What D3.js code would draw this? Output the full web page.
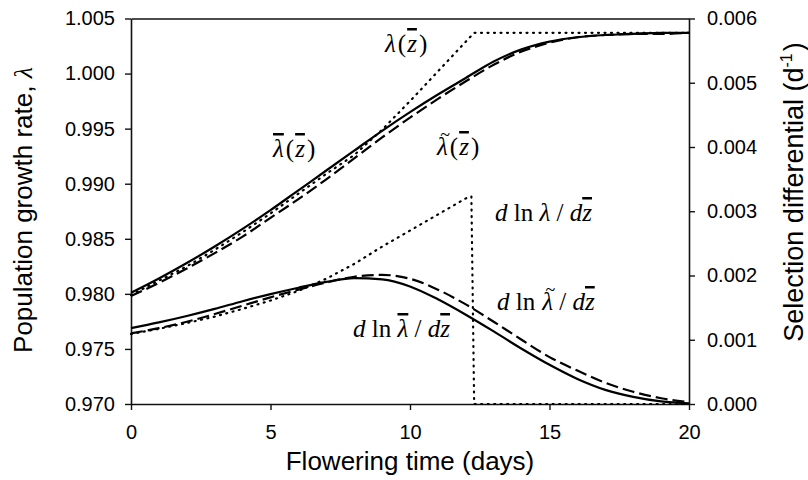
<!DOCTYPE html>
<html>
<head>
<meta charset="utf-8">
<script src="https://d3js.org/d3.v7.min.js"></script>
<style>
  body { margin: 0; background: #fff; }
  svg text { fill: #000; }
</style>
</head>
<body>
<svg width="808" height="480"></svg>
<script>
// flowering time (days), sampled once a day
var days = [0,1,2,3,4,5,6,7,8,9,10,11,12,13,14,15,16,17,18,19,20];

// population growth rate (left axis)
var lamBar   = [0.9801,0.9814,0.9828,0.9843,0.9859,0.9876,0.9894,0.9912,0.9930,0.9948,0.9965,0.9981,0.9996,1.0011,1.0022,1.0029,1.0033,1.0035,1.0036,1.0037,1.0037];
var lamTilde = [0.9798,0.9810,0.9823,0.9837,0.9852,0.9869,0.9886,0.9904,0.9923,0.9942,0.9960,0.9977,0.9993,1.0008,1.0020,1.0028,1.0033,1.0035,1.0036,1.0036,1.0037];
var lamDotX  = [0,1,2,3,4,5,6,7,8,9,10,11,12,12.3,20];
var lamDot   = [0.9799,0.9812,0.9825,0.9840,0.9856,0.9873,0.9891,0.9909,0.9926,0.9949,0.9975,1.0002,1.0029,1.0037,1.0037];

// selection differential (right axis)
var selBar   = [0.00118,0.00127,0.00137,0.00148,0.00160,0.00171,0.00181,0.00190,0.00196,0.00194,0.00183,0.00163,0.00139,0.00113,0.00086,0.00061,0.00039,0.00022,0.00011,0.00004,0.00001];
var selTilde = [0.00110,0.00118,0.00128,0.00140,0.00153,0.00166,0.00178,0.00189,0.00198,0.00201,0.00195,0.00178,0.00155,0.00128,0.00100,0.00073,0.00052,0.00033,0.00019,0.00009,0.00003];
var selDotX  = [0,1,2,3,4,5,6,7,8,9,10,11,12,12.2,12.3,20];
var selDot   = [0.00109,0.00117,0.00126,0.00136,0.00148,0.00161,0.00176,0.00195,0.00218,0.00245,0.00270,0.00295,0.00320,0.00323,0,0];

var xTicks  = [0,5,10,15,20];
var yTicksL = [0.970,0.975,0.980,0.985,0.990,0.995,1.000,1.005];
var yTicksR = [0.000,0.001,0.002,0.003,0.004,0.005,0.006];

(function(){
var svg = d3.select("svg");
var mLeft = 131, mRight = 689, mTop = 18.5, mBottom = 404;

var x  = d3.scaleLinear().domain([0,20]).range([mLeft,mRight]);
var yL = d3.scaleLinear().domain([0.970,1.005]).range([mBottom,mTop]);
var yR = d3.scaleLinear().domain([0,0.006]).range([mBottom,mTop]);

var sans = "'Liberation Sans', Arial, sans-serif";
var serif = "'Liberation Serif', 'Times New Roman', serif";

// axes
function styleAxis(g){
  g.selectAll("path.domain").attr("stroke","#111").attr("stroke-width",1.6);
  g.selectAll(".tick line").attr("stroke","#111").attr("stroke-width",1.4);
  g.selectAll(".tick text").attr("font-family",sans).attr("font-size",20).attr("fill","#000");
}

svg.append("g")
  .attr("transform","translate(0,"+mBottom+")")
  .call(d3.axisBottom(x).tickValues(xTicks).tickSize(6).tickSizeOuter(0).tickPadding(15).tickFormat(d3.format("d")))
  .call(styleAxis);

svg.append("g")
  .attr("transform","translate(0,"+mTop+")")
  .call(d3.axisTop(x).tickValues([]).tickSizeOuter(0))
  .call(styleAxis);

svg.append("g")
  .attr("transform","translate("+mLeft+",0)")
  .call(d3.axisLeft(yL).tickValues(yTicksL).tickSize(6).tickSizeOuter(0).tickPadding(10).tickFormat(d3.format(".3f")))
  .call(styleAxis);

svg.append("g")
  .attr("transform","translate("+mRight+",0)")
  .call(d3.axisRight(yR).tickValues(yTicksR).tickSize(6).tickSizeOuter(0).tickPadding(12).tickFormat(d3.format(".3f")))
  .call(styleAxis);

// curves
function drawLine(xs, ys, yScale, dash, curve){
  var pts = xs.map(function(d,i){ return [d, ys[i]]; });
  var line = d3.line()
    .x(function(d){ return x(d[0]); })
    .y(function(d){ return yScale(d[1]); })
    .curve(curve);
  svg.append("path")
    .datum(pts)
    .attr("d",line)
    .attr("fill","none")
    .attr("stroke","#000")
    .attr("stroke-width",2.2)
    .attr("stroke-dasharray",dash)
    .attr("stroke-linecap",dash=="1,5.5" ? "round" : "butt");
}

drawLine(lamDotX, lamDot, yL, "1,5.5", d3.curveLinear);
drawLine(days, lamTilde, yL, "12,5", d3.curveMonotoneX);
drawLine(days, lamBar, yL, null, d3.curveMonotoneX);

drawLine(selDotX, selDot, yR, "1,5.5", d3.curveLinear);
drawLine(days, selTilde, yR, "12,5", d3.curveMonotoneX);
drawLine(days, selBar, yR, null, d3.curveMonotoneX);

// axis titles
svg.append("text")
  .attr("x",(mLeft+mRight)/2).attr("y",470)
  .attr("text-anchor","middle")
  .attr("font-family",sans).attr("font-size",26)
  .text("Flowering time (days)");

var yt = svg.append("text")
  .attr("transform","translate(32,210) rotate(-90)")
  .attr("text-anchor","middle")
  .attr("font-family",sans).attr("font-size",26);
yt.append("tspan").text("Population growth rate, ");
yt.append("tspan").attr("font-family",serif).attr("font-style","italic").text("λ");

var rt = svg.append("text")
  .attr("transform","translate(803,192) rotate(-90)")
  .attr("text-anchor","middle")
  .attr("font-family",sans).attr("font-size",27);
rt.append("tspan").text("Selection differential (d");
rt.append("tspan").attr("font-size",16).attr("dy",-11).text("-1");
rt.append("tspan").attr("dx",2).attr("dy",11).text(")");

// curve labels: [text, italic, overline, tilde, gap before]
function mathLabel(px, py, parts, anchor){
  var t = svg.append("text")
    .attr("x",px).attr("y",py)
    .attr("text-anchor",anchor || "start")
    .attr("font-family",serif).attr("font-size",25);
  parts.forEach(function(p){
    if (p[3]) {
      // small tilde set above the next glyph
      t.append("tspan").attr("dx",(p[4]||0)+4).attr("dy",-14).attr("font-size",18).text("~");
      t.append("tspan").attr("dx",-13).attr("dy",14).attr("font-style","italic").text(p[0]);
      return;
    }
    var s = t.append("tspan").text(p[0]);
    if (p[4]) s.attr("dx",p[4]);
    if (p[1]) s.attr("font-style","italic");
    if (p[2]) s.attr("text-decoration","overline");
  });
}

mathLabel(385, 52, [["λ",1],["(",0,0,0,2],["z",1,1,0,1],[")",0,0,0,2]]);
mathLabel(273, 157, [["λ",1,1],["(",0,0,0,2],["z",1,1,0,1],[")",0,0,0,2]]);
mathLabel(433, 155, [["λ",1,0,1],["(",0,0,0,2],["z",1,1,0,1],[")",0,0,0,2]]);
mathLabel(495, 221, [["d",1],[" ln ",0],["λ",1],[" / ",0],["d",1],["z",1,1]]);
mathLabel(497, 310, [["d",1],[" ln ",0],["λ",1,0,1],[" / ",0],["d",1],["z",1,1]]);
mathLabel(450, 337, [["d",1],[" ln ",0],["λ",1,1],[" / ",0],["d",1],["z",1,1]], "end");
})();
</script>
</body>
</html>
